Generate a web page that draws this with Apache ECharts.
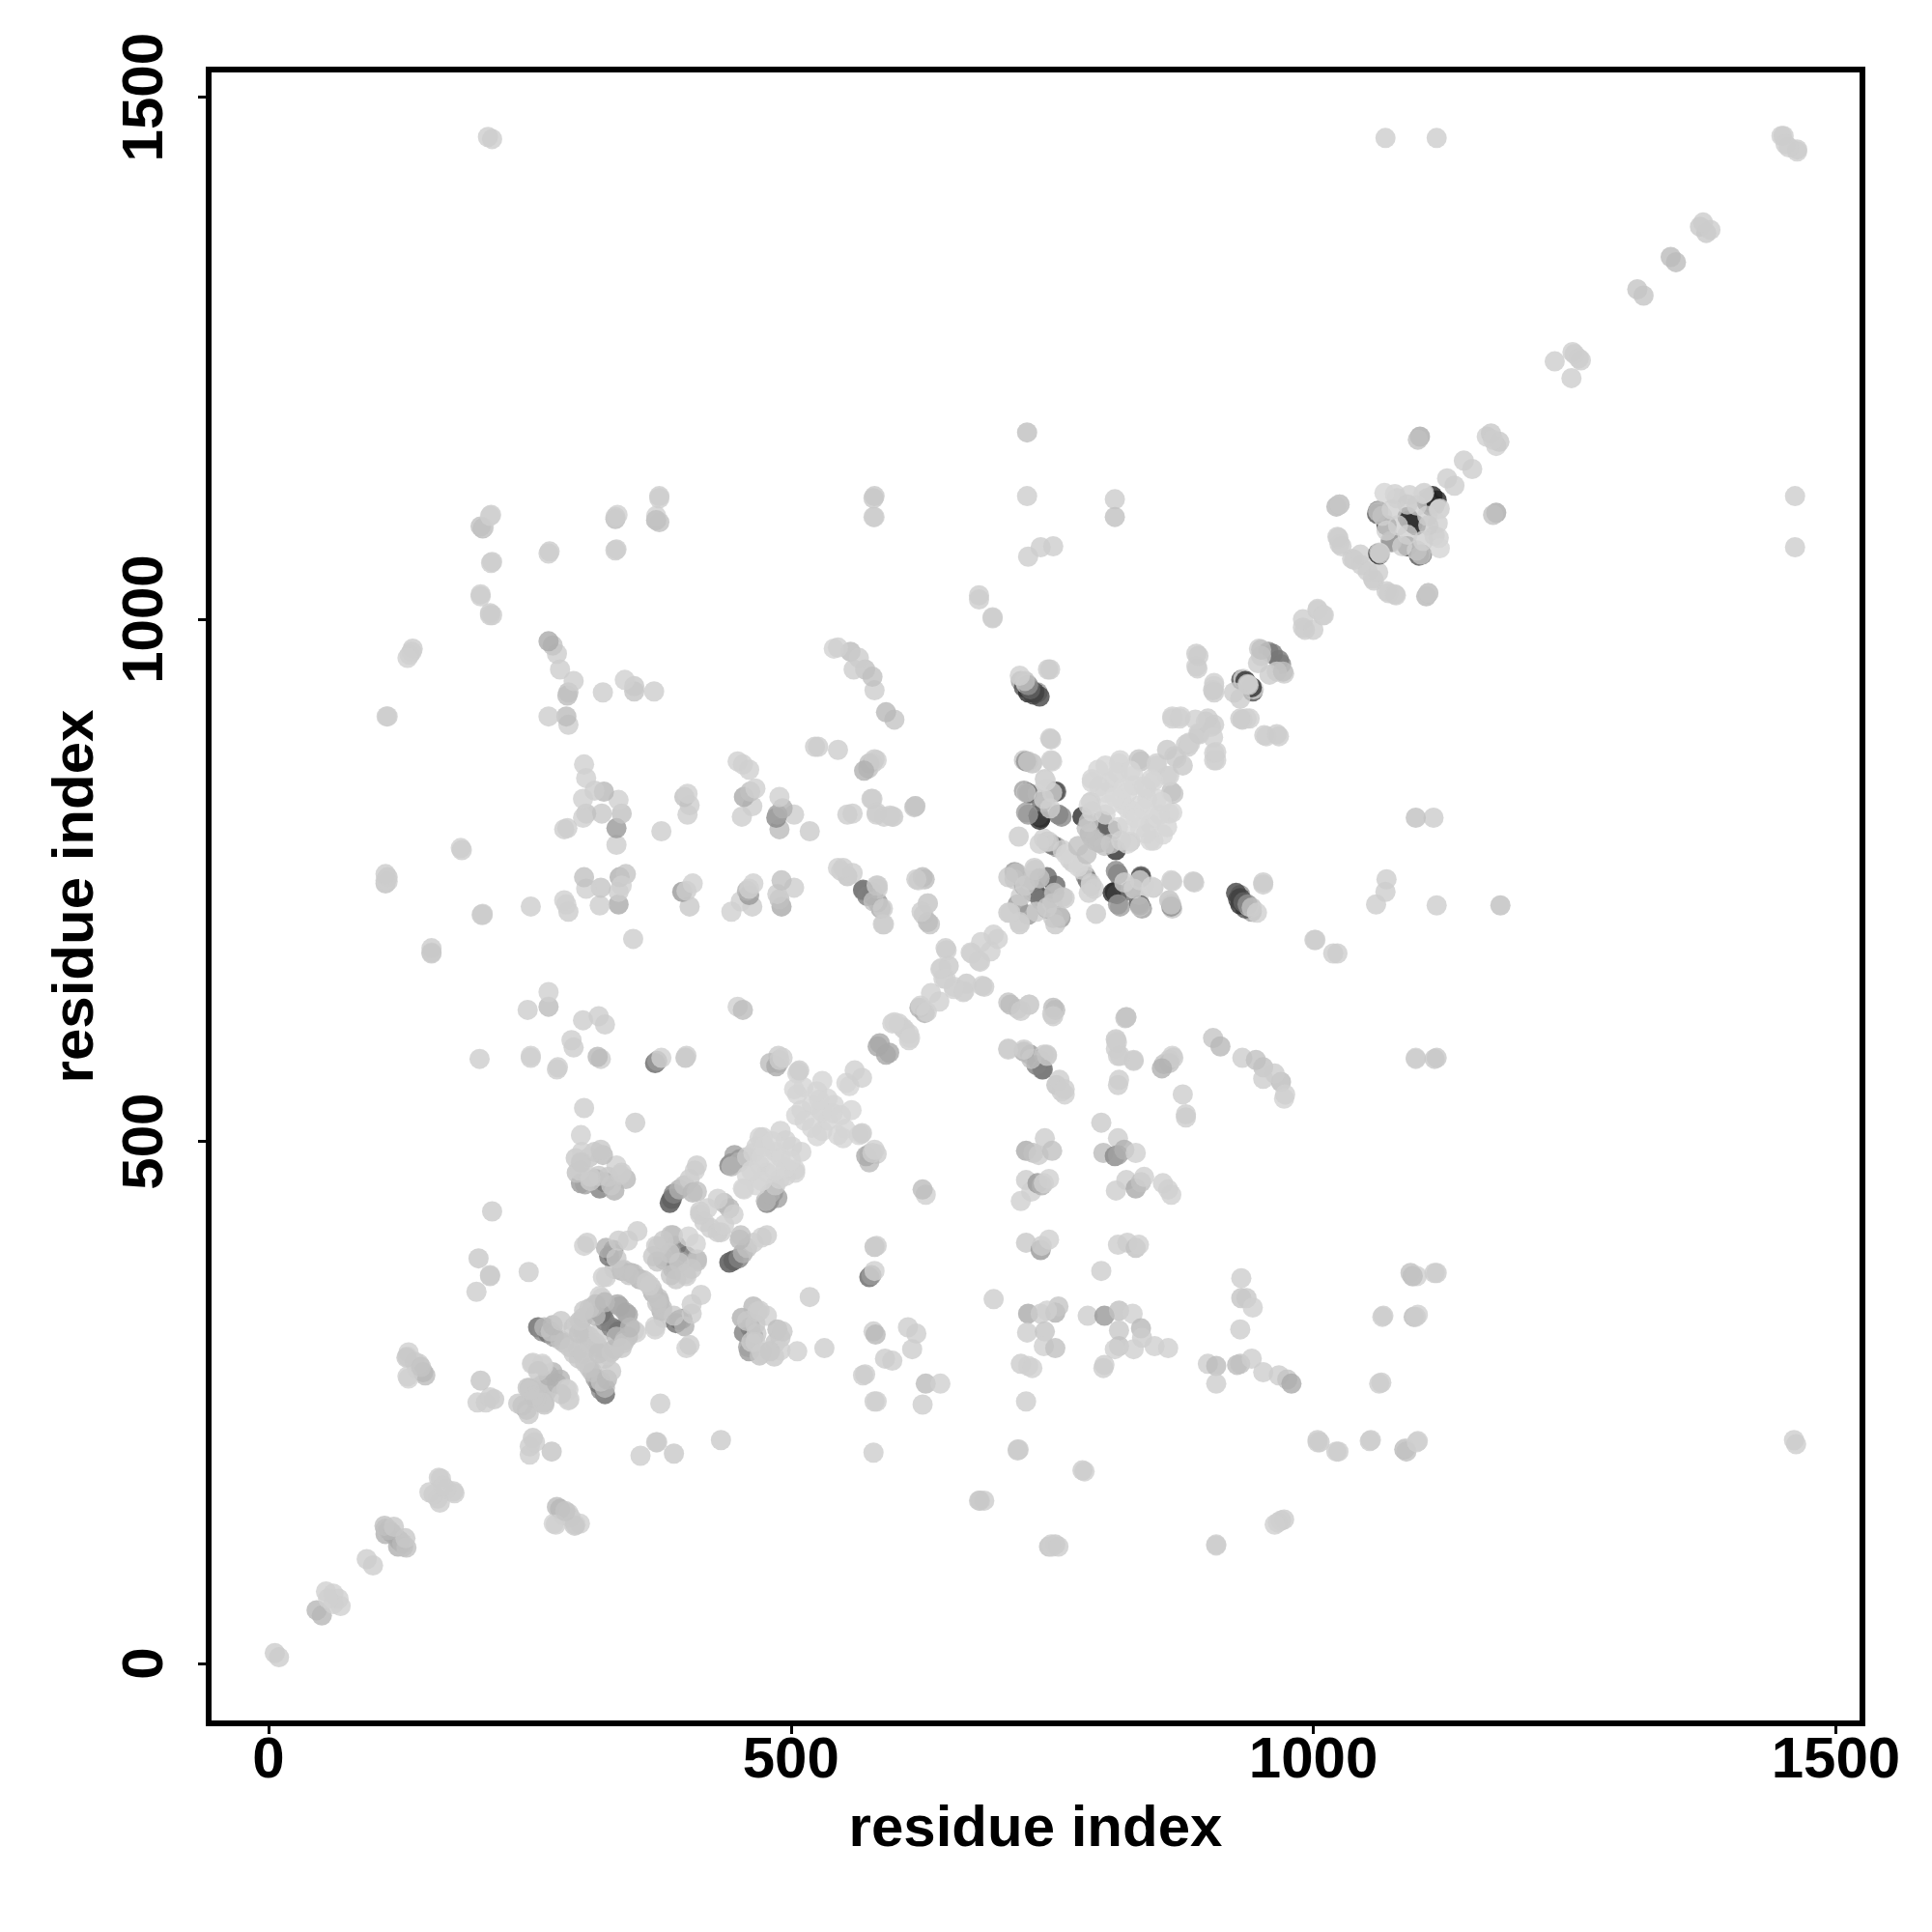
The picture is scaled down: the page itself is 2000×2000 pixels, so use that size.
<!DOCTYPE html>
<html><head><meta charset="utf-8">
<style>html,body{margin:0;padding:0;background:#fff}#c{width:2000px;height:2000px}</style>
<script src="https://cdn.jsdelivr.net/npm/echarts@6/dist/echarts.min.js"></script>
</head><body><div id="c"></div>
<script>
// Residue contact pairs: [i, j, grey level as hex]. The map is symmetric, so (j, i) is also drawn.
const tickValues = [0, 500, 1000, 1500];
const axisTitle = 'residue index';
const defaultShade = 'cd';

const diagLow = [[10,6,'cc'],[51,46,'b6'],[69,55,'d0'],[67,62,'d0'],[62,57,'d0'],[100,94],
 [124,112,'b0'],[129,112,'c0'],[125,118,'aa'],[128,115,'b8'],[132,111,'c0'],[131,120,'c8'],
 [178,163],[164,154],[162,158],[177,165],[170,167],
 [250,200],[253,216,'c8'],[250,208],[255,212]];
const block250 = [[271,203,'c4'],[247,243,'b8'],[264,250,'c4'],[249,239,'c8'],[264,248,'c4'],[267,262,'c4'],[264,257,'c4'],[256,254,'c4'],[262,250,'c8'],
 [279,272,'b4'],[276,268,'b0'],[285,263,'d0'],[287,252,'d0'],[288,253,'d0'],[287,262,'d0'],[280,258,'c8']];
const stripe290 = [[322,258,'66'],[318,262,'88'],[316,268,'70'],[313,273,'a0'],[322,264,'b8'],[318,270,'c4'],[307,283,'c4'],[297,292,'c8'],[310,279,'c0'],[303,288,'c8'],[324,272,'b8'],[328,280,'c8'],[322,292,'c8'],[325,295,'cc'],[316,301,'c8'],[307,307,'cc'],[313,307,'c8'],[303,316,'c8'],[297,301,'c8'],[297,316,'c4'],[316,316,'cc'],[331,301,'c0'],[328,298,'c8']];
const block330 = [[333,320,'66'],[328,322,'80'],[335,318,'70'],[344,334,'a8'],[342,336,'a8'],[341,310,'cc'],[352,317,'cf'],[350,319,'d0'],[344,313,'c0'],[333,313,'b8'],[340,307,'c4'],[346,322,'b8'],[338,302,'c8']];
const arc370 = [[370,323,'d0'],[376,338,'b0'],[374,347,'b0'],[368,355,'b0'],[367,359,'c4'],[373,350,'c0'],[377,340,'c0'],[378,331,'c4'],[370,320,'d0'],[372,345,'c4'],[365,362,'cc']];
const block400 = [[393,329,'60'],[396,330,'88'],[390,326,'70'],[398,323,'b0'],[388,333,'c8'],[405,335,'cc'],[405,344],[414,353],[400,302,'d0'],[403,305,'cc']];
const block390 = [[400,390,'70'],[395,385,'a0'],[390,377,'b0'],[387,378,'a0'],[399,373,'c8'],[410,387,'b8'],[410,385,'c0'],[400,371,'cc'],[409,402,'d2'],[393,384,'c8'],[390,368,'c8'],[405,378,'c8'],[385,372,'c4']];
const block440 = [[441,384,'50'],[443,385,'70'],[445,386,'60'],[450,388,'80'],[454,393,'b0'],[458,398,'c0'],[464,403,'cc'],[472,408,'d0'],[477,410,'cc'],[451,406,'b8'],[452,410,'c0'],[433,413],[423,417],[430,413],[441,436,'b8'],[445,430,'d0'],[436,420,'d0']];
const block310 = [[460,299,'99'],[464,313,'70'],[461,322,'70'],[455,317,'80'],[453,331,'b0'],[459,303,'a0'],[470,295,'c0'],[464,342,'b8'],[468,337,'cc'],[477,333,'d0'],[487,320,'bb'],[485,307,'c4'],[490,312,'c8'],[484,294,'c8'],[490,300,'d0'],[506,299,'d0'],[462,308,'cc'],[458,328,'c8'],[467,316,'c8'],[466,308,'cc'],[466,325,'c8'],[470,338,'cc'],[472,298,'cc'],[480,299,'c8'],[492,318,'c8']];
const diag470 = [[477,441,'80'],[483,451,'70'],[487,446,'a0'],[479,443,'90'],[476,443,'b8'],[480,450,'b0'],[485,458,'c8'],[495,467,'d2'],[504,473,'d2'],[501,495,'d2'],[489,464,'d2'],[504,470,'d2'],[477,470,'d2'],[467,458,'d4'],[455,454,'d4'],[510,490,'d2'],[495,475,'d4'],[490,485,'d4'],[472,462,'d4'],[500,482,'d4'],[485,472,'d4']];
const diag530 = [[565,506,'d4'],[545,506,'d4'],[552,512,'d4'],[535,520,'d4'],[530,510,'d4'],[541,535,'d4'],[556,553,'d4'],[530,528,'d4'],[520,513,'d4'],[540,527,'d4'],[548,525,'d4'],[568,561,'d0'],[575,488,'c0'],[582,488,'cc'],[575,480,'bb'],[567,507,'d4'],[550,503,'d4'],[525,505,'d4'],[558,530,'d4']];
const diag600 = [[591,583,'a6'],[594,585,'a8'],[613,597,'d0'],[613,603,'d0'],[609,607,'d0'],[614,599,'d2'],[628,623,'b0'],[630,624,'d0'],[642,634,'d0'],[665,643,'d0'],[656,646,'d0'],[668,651,'c8'],[656,648,'d0'],[666,644,'d0'],[683,649,'d0'],[685,648,'cc'],[681,672,'d0'],[680,673,'d0'],[691,682,'d0'],[698,694,'d0']];
const lowerLeft = [[276,150,'bb'],[282,142,'c4'],[273,134,'d2'],[287,144,'cc'],[294,133,'d0'],
 [298,134,'cf'],[289,140,'cc'],[279,148,'b8'],[275,133,'d0'],[293,132,'c8'],[284,146,'c4'],
 [433,214,'cb'],[388,201,'c8'],[371,212,'c8'],[372,212,'cc'],[356,199],[375,249]];
const column580 = [[580,399,'c0'],[582,400,'cc'],[575,370,'66'],[577,372,'99'],[580,376,'d0'],[579,318,'cc'],[581,315,'b8'],[569,276],[580,251],[579,202],[590,292,'cc'],[532,302],[518,351,'cc'],
 [568,508],[572,486,'aa'],[578,489,'cc'],[580,492,'d0']];
const column720 = [[708,589,'cc'],[723,586,'aa'],[729,583,'99'],[736,578,'55'],[739,578,'66'],[742,583,'cc'],[745,583,'cc'],[740,569,'c8'],[754,554,'c0'],[759,548,'cc'],[762,545,'d0'],
 [725,491,'aa'],[732,489,'c0'],[737,487,'cc'],[743,503],[750,491,'c0'],
 [720,443,'d0'],[725,463,'cc'],[730,452,'d0'],[736,460,'99'],[740,458,'b0'],[742,460,'d0'],[747,464,'cf'],
 [725,403,'c8'],[739,396,'99'],[740,400,'cc'],[747,406,'d0'],
 [727,335,'aa'],[739,335,'cc'],[753,336,'b0'],[756,342,'c4'],[745,338,'d0'],[726,317],[743,318,'c4'],[742,304,'d0'],[753,302,'c0'],[720,287,'cc'],[727,285,'d0'],[731,283,'d0'],[694,349],[725,251],[718,205,'cf'],[717,204,'c8'],[681,156,'cc'],[685,156,'cc']];
const column810 = [[811,598],[811,589],[813,582],[820,618,'c8'],[828,578],[813,554,'cc'],
 [857,574,'c0'],[862,578,'cc'],[865,582,'d0'],[875,545],[878,523],[878,526],[797,518,'cb'],
 [813,503],[799,489,'bb'],[810,486,'88'],[813,487,'a0'],[819,492,'b0'],[830,489,'d0'],
 [811,453],[821,463],[830,455,'aa'],[835,461,'c0'],[838,466,'d0'],[856,460,'d0'],[861,454,'d0'],[864,449,'d0'],
 [813,401],[822,403],[830,398,'c0'],[833,401,'d0'],[797,376],
 [784,333],[800,333,'99'],[814,338,'c0'],[827,335,'d0'],[814,319,'c8'],[835,321,'b8'],[836,312,'cc'],[814,304,'c0'],[810,301,'d0'],[828,301,'d0'],[848,304,'d0'],[861,302,'d0'],[800,286],[799,283],
 [612,322],[620,316],[616,301],[597,290],[571,277],[629,268,'bb'],[643,268,'d0'],[626,248],[582,251,'d0'],[781,184,'d0'],
 [629,449,'d0'],[626,454,'bb'],[811,597,'d0'],[708,633,'c4'],[717,627],[728,631],[751,628,'bb'],[750,622],[821,619,'cc']];
const column920 = [[904,599,'c4'],[911,591,'b8'],[932,580],[945,578,'c0'],[952,571,'c0'],[952,560],[969,557,'bb'],[972,541,'d2'],[973,545,'d0'],[963,565,'cc'],
 [931,369],[931,350,'c4'],[936,350,'c8'],[942,341,'d0'],[930,320],
 [899,287],[907,285,'bb'],[907,268],[927,286,'bb'],[930,287,'c0'],[941,292],[952,279],[967,276],[975,272,'c4'],[979,268,'aa'],
 [1004,214,'cc'],[1006,212,'cc'],[1024,203],[1055,214,'cc'],[1087,205,'b8'],[1088,206,'cc'],[1100,213],
 [1098,580,'d0'],[1118,580,'c8'],[1093,374,'c0'],[1095,371,'c8'],[1099,371,'d0'],[1118,374,'cc'],[1067,333,'cc'],[1096,332,'bb'],[1100,334,'cf'],[1065,269,'cc'],
 [1089,203,'c0'],[1099,212,'cf'],[1054,213],[1022,203],[1004,212],[1063,268],[1098,332,'cc'],[1066,332],[1095,371,'c0'],[1116,374],[1098,579,'cc'],[1116,579,'c8'],[1118,726],[1179,726,'bf'],[1115,810,'cc'],[1098,810,'c0'],[1060,727],[1069,739],[1070,751]];
const farLeft = [[972,138,'cc'],[966,135,'d0'],[907,114],[779,185,'cc'],[753,114,'c8'],[747,112,'c0'],[717,205],[680,156,'c8'],[750,112,'cf'],[749,114],[756,112,'cc'],[907,113],[969,137],[963,133,'d0'],[1023,680],[1002,693],[1001,693],[1019,680]];
const column440 = [[862,575,'c0'],[866,580,'cc'],[855,570,'b0'],[828,577],[815,582],[812,595],[821,619,'c4'],[814,559],
 [741,569,'66'],[735,573,'80'],[745,582,'cc'],[730,579,'c0'],[723,588,'cc'],[708,588],[753,626,'bb'],[751,620,'cc'],[728,631],[710,631,'bb'],[720,625,'cc'],[757,559],[762,550]];
const block730 = [[941,720,'a0'],[935,723,'50'],[930,727,'2a'],[928,732,'40'],[930,736,'99'],[938,725,'c8'],[952,746],
 [886,748],[865,723,'c4'],[862,731,'c0'],[865,749],[847,743,'c8'],
 [836,723,'a0'],[833,728,'50'],[838,745,'c8'],[833,736,'d0'],[835,754,'77'],
 [815,725,'a0'],[810,739,'22'],[812,737,'44'],[819,745,'d0'],[813,756,'77'],[792,718,'cc']];
const block750 = [[745,723,'44'],[741,733,'55'],[739,731,'77'],[727,717,'99'],[753,745,'66'],[750,728,'c8'],[758,714,'99'],[751,714,'c8'],[719,708,'c8'],[719,710,'d0'],[757,716,'c0'],[753,708,'c8'],[760,734,'cc'],[745,724,'cc'],[762,733,'cc'],[735,720,'cc'],[752,738,'c4']];
const arc770 = [[782,754,'a0'],[784,750,'70'],[787,745,'c0'],[787,747,'d0'],[790,742,'d0'],[785,738,'d0'],[779,760,'d0'],[770,767,'d0'],[775,763,'d6']];
const block820 = [[808,738,'2a'],[812,737,'40'],[811,759,'88'],[825,740,'70'],[813,727,'99'],[835,753,'50'],[834,726,'50'],[834,725,'c8'],[819,748,'d0'],[828,742,'d0'],[834,750,'d0'],[845,744,'d4'],[864,725,'90'],[864,727,'c8'],[864,750,'d0'],[885,749,'cc']];
const block930 = [[926,738,'44'],[930,733,'40'],[933,729,'60'],[937,727,'90'],[941,724,'c0'],[946,719,'d0'],[952,748,'cc']];
const blob820 = [[811,779,'2a'],[807,798,'44'],[804,797,'66'],[795,786,'a8'],[791,788,'c0'],[800,783,'c0'],[783,775,'c0'],[806,785,'c8'],
 [864,835,'c0'],[865,815,'d4'],[860,801,'d4'],[847,788,'d4'],[825,787,'c8'],[844,804,'d6'],[834,822,'d6'],[850,828,'d6'],[860,850,'d4'],[866,833,'c4'],[862,850,'d0'],[862,814,'d6'],[856,794,'d6'],[844,788,'d6'],[822,785,'d6'],[847,810,'d6'],[841,828,'d6'],[822,819,'d8'],[840,838,'d6'],[847,845,'d4'],[834,801,'d6'],[822,804,'d8'],[853,813,'d6'],[828,816,'d8'],[813,801,'d6'],[816,788,'d2'],[840,795,'d4'],[855,825,'d6'],[830,810,'d8'],[838,818,'d8']];
const diag900 = [[869,867,'cf'],[875,860,'c8'],[880,878,'cc'],[882,881,'d0'],[905,865,'d0'],[905,872,'d0'],[891,890,'cc'],[905,899,'cc'],[902,897,'cc'],[904,887,'d0'],[907,865,'cf'],[907,873,'cf'],[967,888,'cc'],[955,888,'d0'],[939,905,'cf'],[932,904,'c8'],[942,931,'50'],[943,933,'d0'],[941,935,'30'],[938,937,'d2'],[936,905,'d0'],[930,905,'cc'],[930,924,'cc'],[953,889],[965,890,'cc'],
 [972,948,'cc'],[969,957,'88'],[967,961,'77'],[958,947,'cc'],[965,950,'cc'],[971,950,'c0'],[992,990],[1000,990],[1009,1004],[1004,1010,'d0']];
const block1100 = [[1110,1025,'c0'],[1108,1022,'b8'],[1079,1023],[1070,1027],[1058,1037],[1052,1046],[1057,1039],[1062,1045],[1072,1025],[1078,1024],[1110,1025,'c8'],
 [1118,1114,'22'],[1116,1109,'22'],[1113,1108,'33'],[1095,1092,'22'],[1098,1090,'33'],[1101,1061,'55'],[1104,1062,'80'],[1090,1070,'33'],[1075,1074,'99'],[1063,1062,'40'],[1064,1063,'d0'],[1099,1066,'d0'],[1116,1080,'d0'],[1119,1092,'d0'],[1121,1106,'d0'],[1120,1105,'d4'],[1120,1078,'d0'],[1121,1068,'d4'],[1103,1062,'c0'],[1109,1099,'d0'],[1090,1081,'d0'],[1110,1090,'cc'],[1105,1075,'d0'],[1085,1070,'d0']];
const diagHigh = [[1175,1102,'aa'],[1172,1100,'c0'],[1152,1144],[1135,1128],[1175,1166,'cf'],[1178,1170,'c8'],[1172,1172],
 [1247,1231],[1256,1248],[1250,1254],[1316,1310,'c4'],[1347,1342,'bb'],[1376,1370,'c8'],[1380,1373,'cc'],[1463,1448,'d0'],[1463,1450,'cc'],[1455,1452],
 [1462,210],[1460,214],[1461,1069],[1461,1118]];

const contactGroups = [diagLow, block250, stripe290, block330, arc370, block400, block390, block440, block310, diag470, diag530, diag600, lowerLeft, column580, column720, column810, column920, farLeft, column440, block730, block750, arc770, block820, block930, blob820, diag900, block1100, diagHigh];

const points = [];
contactGroups.forEach(group => group.forEach(p => {
  const g = p[2] || defaultShade;
  const color = '#' + g + g + g;
  points.push({ value: [p[0], p[1]], itemStyle: { color } });
  if (p[0] !== p[1]) points.push({ value: [p[1], p[0]], itemStyle: { color } });
}));

const textBase = { color: '#000', fontFamily: 'Liberation Sans', fontWeight: 'bold', fontSize: 60 };
const plainNumber = v => String(v);
const chart = echarts.init(document.getElementById('c'), null, { renderer: 'canvas' });
chart.setOption({
  animation: false,
  backgroundColor: '#fff',
  grid: { left: 216, right: 72, top: 72, bottom: 216, show: true, borderColor: '#000', borderWidth: 6, backgroundColor: 'transparent', z: 5 },
  xAxis: {
    type: 'value', min: -57.3, max: 1525.5,
    name: axisTitle, nameLocation: 'middle', nameGap: 80, nameTextStyle: textBase,
    axisLine: { show: false, onZero: false }, splitLine: { show: false }, minorTick: { show: false },
    axisTick: { show: true, length: 11, customValues: tickValues, lineStyle: { color: '#000', width: 3 } },
    axisLabel: Object.assign({ show: true, margin: 9, customValues: tickValues, hideOverlap: false, formatter: plainNumber }, textBase)
  },
  yAxis: {
    type: 'value', min: -57.3, max: 1526.5,
    name: axisTitle, nameLocation: 'middle', nameGap: 107, nameRotate: 90, nameTextStyle: textBase,
    axisLine: { show: false, onZero: false }, splitLine: { show: false }, minorTick: { show: false },
    axisTick: { show: true, length: 11, customValues: tickValues, lineStyle: { color: '#000', width: 3 } },
    axisLabel: Object.assign({ show: true, rotate: 90, margin: 35, customValues: tickValues, hideOverlap: false, formatter: plainNumber }, textBase)
  },
  series: [{
    type: 'scatter', symbol: 'circle', symbolSize: 21, data: points, silent: true, clip: false,
    emphasis: { disabled: true }, progressive: 0, z: 2
  }]
});
</script></body></html>
